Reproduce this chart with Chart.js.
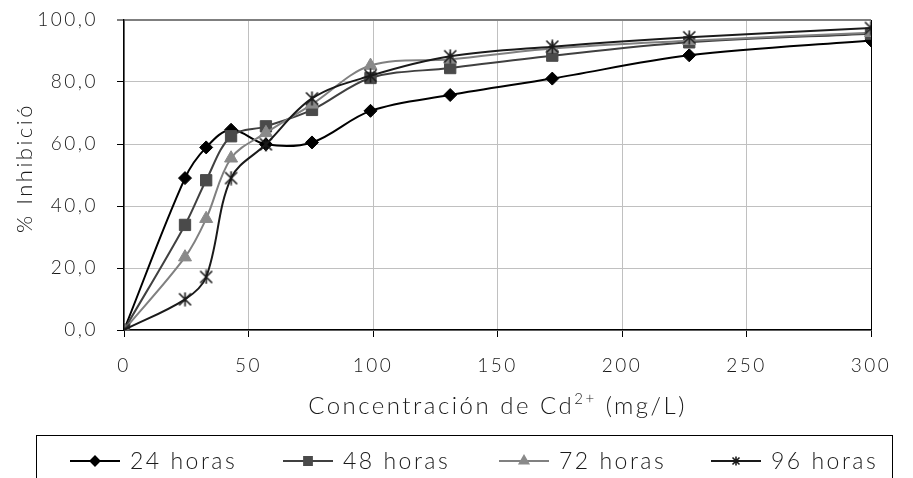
<!DOCTYPE html>
<html>
<head>
<meta charset="utf-8">
<script src="https://cdn.jsdelivr.net/npm/chart.js@4.4.1/dist/chart.umd.min.js"></script>
<style>
  html, body { margin: 0; padding: 0; background: #fff; }
  #wrap { position: relative; width: 913px; height: 478px; }
</style>
</head>
<body>
<div id="wrap"><canvas id="c" width="913" height="478"></canvas></div>
<script>
// ---- data ----
const concentrations = [0, 24.5, 33, 43, 57, 75.5, 99, 131, 172, 227, 300];
const horas24 = [0, 49.0, 58.9, 64.6, 59.9, 60.5, 70.7, 75.8, 81.1, 88.6, 93.4];
const horas48 = [0, 33.9, 48.3, 62.5, 65.7, 71.0, 81.3, 84.5, 88.5, 92.8, 95.6];
const horas72 = [0, 23.5, 35.9, 55.4, 63.6, 72.8, 85.3, 87.3, 90.8, 93.3, 95.9];
const horas96 = [0, 9.9, 17.1, 49.0, 59.9, 74.7, 82.0, 88.3, 91.4, 94.4, 97.4];
const seriesLabels = ['24 horas', '48 horas', '72 horas', '96 horas'];
const xTitleParts = ['Concentración de Cd', '2+', ' (mg/L)'];
const yTitle = '% Inhibició';

const FONT = 'Lato, "DejaVu Sans", sans-serif';
const TXT = '#1a1a1a';
const SPACING = '2.5px';

function makeStar(size, color) {
  const c = document.createElement('canvas');
  c.width = size; c.height = size;
  const g = c.getContext('2d');
  g.strokeStyle = color; g.lineWidth = 1.6;
  const m = 1.5, s = size - 1.5;
  g.beginPath();
  g.moveTo(m, m); g.lineTo(s, s);
  g.moveTo(s, m); g.lineTo(m, s);
  g.moveTo(size / 2, 0.5); g.lineTo(size / 2, size - 0.5);
  g.stroke();
  return c;
}
const starBig = makeStar(15, '#1a1a1a');
const starSmall = makeStar(10, '#1a1a1a');

function pts(ys) { return concentrations.map((x, i) => ({ x: x, y: ys[i] })); }

const styles = [
  { color: '#000000', fill: '#000000', pointStyle: 'rectRot', radius: 6.5, lRadius: 4.5 },
  { color: '#404040', fill: '#4a4a4a', pointStyle: 'rect', radius: 8, lRadius: 5.5 },
  { color: '#808080', fill: '#8a8a8a', pointStyle: 'triangle', radius: 7.5, lRadius: 5 },
  { color: '#1a1a1a', fill: '#1a1a1a', pointStyle: starBig, radius: 7, lRadius: 5, legendImg: starSmall }
];
const values = [horas24, horas48, horas72, horas96];

const datasets = values.map((v, i) => ({
  label: seriesLabels[i],
  data: pts(v),
  borderColor: styles[i].color,
  backgroundColor: styles[i].fill,
  pointBackgroundColor: styles[i].fill,
  pointBorderColor: styles[i].fill,
  pointBorderWidth: 1,
  pointStyle: styles[i].pointStyle,
  pointRadius: styles[i].radius,
  borderWidth: 2,
  tension: 0.35,
  fill: false,
  order: 3 - i
}));

const spacingPlugin = {
  id: 'spacing',
  beforeUpdate(chart) { chart.ctx.letterSpacing = SPACING; },
  beforeLayout(chart) { chart.ctx.letterSpacing = SPACING; },
  beforeDraw(chart) { chart.ctx.letterSpacing = SPACING; }
};

const textPlugin = {
  id: 'boxLegend',
  afterDraw(chart) {
    const ctx = chart.ctx;
    const area = chart.chartArea;
    ctx.save();
    ctx.letterSpacing = SPACING;
    ctx.fillStyle = TXT;
    // y axis title
    ctx.save();
    ctx.translate(25, 168);
    ctx.rotate(-Math.PI / 2);
    ctx.font = '300 22px ' + FONT;
    ctx.textAlign = 'center';
    ctx.textBaseline = 'middle';
    ctx.fillText(yTitle, 0, 0);
    ctx.restore();
    // x axis title with superscript
    const mainFont = '300 24px ' + FONT;
    const supFont = '300 15px ' + FONT;
    ctx.textAlign = 'left';
    ctx.textBaseline = 'alphabetic';
    ctx.font = mainFont;
    const w0 = ctx.measureText(xTitleParts[0]).width;
    const w2 = ctx.measureText(xTitleParts[2]).width;
    ctx.font = supFont;
    const w1 = ctx.measureText(xTitleParts[1]).width;
    const total = w0 + w1 + w2;
    let tx = (area.left + area.right) / 2 - total / 2;
    const base = 414;
    ctx.font = mainFont;
    ctx.fillText(xTitleParts[0], tx, base); tx += w0;
    ctx.font = supFont;
    ctx.fillText(xTitleParts[1], tx, base - 10); tx += w1;
    ctx.font = mainFont;
    ctx.fillText(xTitleParts[2], tx, base);
    // legend box
    ctx.strokeStyle = '#000';
    ctx.lineWidth = 1;
    ctx.strokeRect(36.5, 435.5, 856, 60);
    const lineStarts = [70, 283, 499, 711];
    const cy = 461;
    ctx.font = '300 23px ' + FONT;
    ctx.textBaseline = 'middle';
    ctx.textAlign = 'left';
    seriesLabels.forEach((lab, i) => {
      const st = styles[i];
      const x0 = lineStarts[i];
      ctx.strokeStyle = st.color;
      ctx.lineWidth = 2;
      ctx.beginPath();
      ctx.moveTo(x0, cy); ctx.lineTo(x0 + 50, cy);
      ctx.stroke();
      ctx.fillStyle = st.fill;
      ctx.strokeStyle = st.fill;
      Chart.helpers.drawPoint(ctx, {
        pointStyle: st.legendImg || st.pointStyle,
        radius: st.lRadius, rotation: 0, borderWidth: 1
      }, x0 + 25, cy);
      ctx.fillStyle = TXT;
      ctx.fillText(lab, x0 + 60, cy + 1);
    });
    ctx.restore();
  }
};

new Chart(document.getElementById('c'), {
  type: 'line',
  data: { datasets: datasets },
  plugins: [spacingPlugin, textPlugin],
  options: {
    responsive: false,
    animation: false,
    layout: { padding: { top: 20, right: 42, left: 0, bottom: 0 } },
    plugins: { legend: { display: false }, tooltip: { enabled: false } },
    scales: {
      x: {
        type: 'linear', min: 0, max: 300,
        afterFit(s) { s.height = 148; },
        ticks: { stepSize: 50, color: TXT, padding: 17, maxRotation: 0,
                 font: { family: FONT, size: 19, weight: '300' } },
        grid: {
          color: c => (c.tick && c.tick.value === 300) ? '#000000' : '#c0c0c0',
          lineWidth: 1, tickLength: 7, tickColor: '#000', tickWidth: 1
        },
        border: { color: '#000', width: 1.5 },
        title: { display: false }
      },
      y: {
        type: 'linear', min: 0, max: 100,
        afterFit(s) { s.width = 124; s.paddingTop = 0; s.paddingBottom = 0; },
        ticks: { stepSize: 20, color: TXT, padding: 19,
                 font: { family: FONT, size: 19, weight: '300' },
                 callback: v => v.toFixed(1).replace('.', ',') },
        grid: {
          color: c => (c.tick && c.tick.value === 100) ? '#7f7f7f' : '#c0c0c0',
          lineWidth: c => (c.tick && c.tick.value === 100) ? 2 : 1,
          tickLength: 7, tickColor: '#000', tickWidth: 1
        },
        border: { color: '#000', width: 1.5 },
        title: { display: false }
      }
    }
  }
});
</script>
</body>
</html>
